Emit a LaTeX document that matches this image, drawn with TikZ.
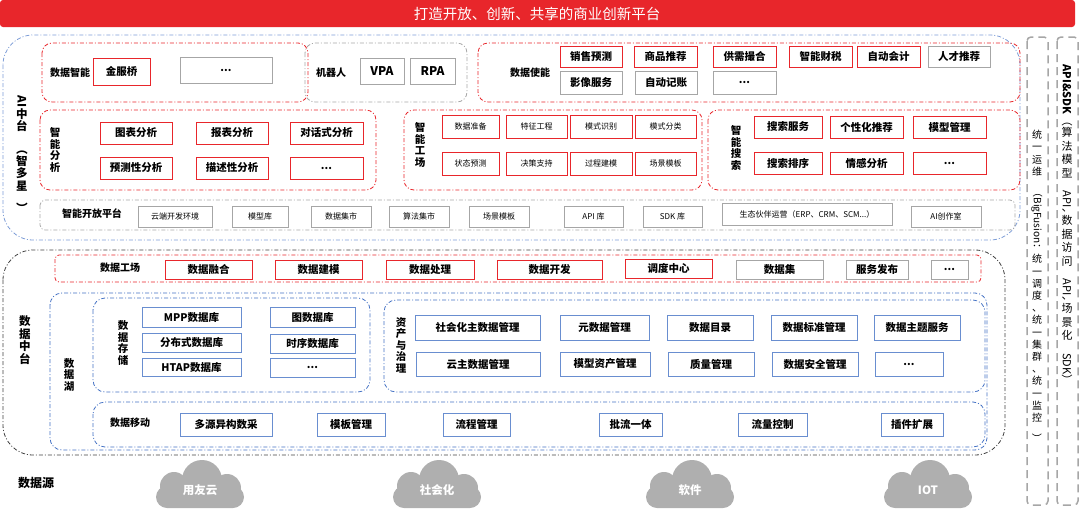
\documentclass[tikz,border=0pt]{standalone}
\usepackage{fontspec}
\setmainfont{Noto Sans CJK SC}
\definecolor{rd}{HTML}{E8262B}
\definecolor{bl}{HTML}{4472C4}
\definecolor{gy}{HTML}{A6A6A6}
\newcounter{bc}
\newcommand\bx[6]{\stepcounter{bc}\node[#1,minimum width={(#4)-(#2)},minimum height={(#5)-(#3)}] (b\arabic{bc}) at ({((#2)+(#4))/2},{((#3)+(#5))/2}) {#6};}
\newcommand\rt[1]{\rotatebox{-90}{#1}}
\newcommand\cloudat[4]{% name, x, y, text
 \fill[gy!90] ({#2-44},{#3-2}) [rounded corners=11] rectangle ({#2+44},{#3+20});
 \fill[gy!90] ({#2-26},{#3-2}) circle (14);
 \fill[gy!90] ({#2+2},{#3-8}) circle (20);
 \fill[gy!90] ({#2+27},{#3}) circle (14);
 \node[text=white, font=\bfseries\fontsize{11.5}{12}\selectfont] (#1) at (#2,{#3+2}) {#4};}
\tikzset{
 dd/.style={dash pattern=on 4pt off 2pt on 1pt off 2pt, line width=0.8pt},
 rg/.style={dd, draw=rd, rounded corners=10},
 gg/.style={dd, draw=gy, rounded corners=10},
 bg/.style={dd, draw=bl, rounded corners=12},
 kg/.style={dd, draw=black!75, rounded corners=12},
 rb/.style={draw=rd, line width=1pt, fill=white, inner sep=0pt, font=\bfseries\fontsize{10.5}{11}\selectfont},
 gb/.style={draw=gy, line width=1pt, fill=white, inner sep=0pt, font=\bfseries\fontsize{10.5}{11}\selectfont},
 bb/.style={draw=bl!80, line width=1pt, fill=white, inner sep=0pt, font=\bfseries\fontsize{10.5}{11}\selectfont},
 srb/.style={rb, font=\fontsize{8}{9}\selectfont},
 sgb/.style={gb, font=\fontsize{8}{9}\selectfont},
 lbl/.style={font=\bfseries\fontsize{10}{11}\selectfont, inner sep=0pt},
 vlbl/.style={font=\bfseries\fontsize{10.5}{11.5}\selectfont, align=center, inner sep=0pt},
}
\begin{document}
\begin{tikzpicture}[x=1pt,y=-1pt]
\useasboundingbox (0,0) rectangle (1080,512);
% title
\fill[rd, rounded corners=3] (0,0) rectangle (1075,27);
\node[text=white, font=\fontsize{14.5}{15}\selectfont] (title) at (537,14) {打造开放、创新、共享的商业创新平台};
% AI platform
\draw[bg, draw=bl!70, rounded corners=30] (3,35) rectangle (1020,240);
\node[vlbl, font=\bfseries\fontsize{11.5}{12.5}\selectfont] (ai) at (22,155) {\rt{AI}\\中\\台\\\rt{（}\\智\\多\\星\\\rt{）}};
% row 1
\draw[rg] (42,43) rectangle (308,102);
\node[lbl] (l1) at (70,73) {数据智能};
\bx{rb}{93}{58}{150}{85}{金服桥}
\bx{gb}{180}{57}{272}{83}{...}
\draw[gg] (305,43) rectangle (467,102);
\node[lbl] (l2) at (331,73) {机器人};
\bx{gb}{360}{58}{404}{84}{\fontsize{12}{13}\selectfont VPA}
\bx{gb}{410}{58}{455}{84}{\fontsize{12}{13}\selectfont RPA}
\draw[rg] (478,43) rectangle (1020,102);
\node[lbl] (l3) at (530,73) {数据使能};
\bx{rb}{560}{46}{622}{67}{销售预测}
\bx{rb}{634}{46}{697}{67}{商品推荐}
\bx{rb}{713}{46}{776}{67}{供需撮合}
\bx{rb}{789}{46}{852}{67}{智能财税}
\bx{rb}{857}{46}{920}{67}{自动会计}
\bx{gb}{928}{46}{990}{67}{人才推荐}
\bx{gb}{560}{71}{622}{94}{影像服务}
\bx{gb}{635}{71}{697}{94}{自动记账}
\bx{gb}{713}{71}{776}{94}{...}
% row 2
\draw[rg] (40,110) rectangle (376,190);
\node[vlbl] (l4) at (55,150) {智\\能\\分\\析};
\bx{rb}{100}{122}{172}{144}{图表分析}
\bx{rb}{196}{122}{268}{144}{报表分析}
\bx{rb}{290}{122}{363}{144}{对话式分析}
\bx{rb}{100}{157}{172}{179}{预测性分析}
\bx{rb}{196}{157}{268}{179}{描述性分析}
\bx{rb}{290}{157}{363}{179}{...}
\draw[rg] (404,110) rectangle (702,190);
\node[vlbl] (l5) at (420,145) {智\\能\\工\\场};
\bx{srb}{442}{115}{499}{138}{数据准备}
\bx{srb}{506}{115}{567}{138}{特征工程}
\bx{srb}{570}{115}{632}{138}{模式识别}
\bx{srb}{635}{115}{696}{138}{模式分类}
\bx{srb}{442}{152}{499}{175}{状态预测}
\bx{srb}{506}{152}{567}{175}{决策支持}
\bx{srb}{570}{152}{632}{175}{过程建模}
\bx{srb}{635}{152}{696}{175}{场景模板}
\draw[rg] (708,110) rectangle (1020,190);
\node[vlbl] (l6) at (736,148) {智\\能\\搜\\索};
\bx{rb}{754}{116}{822}{138}{搜索服务}
\bx{rb}{830}{116}{903}{138}{个性化推荐}
\bx{rb}{913}{116}{986}{138}{模型管理}
\bx{rb}{754}{152}{822}{174}{搜索排序}
\bx{rb}{830}{152}{903}{174}{情感分析}
\bx{rb}{913}{152}{986}{174}{...}
% row 3
\draw[gg, rounded corners=5] (40,200) rectangle (1015,230);
\node[lbl] (l7) at (92,214) {智能开放平台};
\bx{sgb}{138}{206}{212}{227}{云端开发环境}
\bx{sgb}{232}{206}{288}{227}{模型库}
\bx{sgb}{311}{206}{371}{227}{数据集市}
\bx{sgb}{389}{206}{449}{227}{算法集市}
\bx{sgb}{469}{206}{529}{227}{场景模板}
\bx{sgb}{564}{206}{623}{227}{API 库}
\bx{sgb}{643}{206}{702}{227}{SDK 库}
\bx{sgb}{722}{203}{892}{225}{生态伙伴运营（ERP、CRM、SCM...）}
\bx{sgb}{911}{206}{981}{227}{AI创作室}
% data platform
\draw[kg, rounded corners=30] (3,250) rectangle (1005,455);
\node[vlbl, font=\bfseries\fontsize{11.5}{12.5}\selectfont] (l8) at (25,340) {数\\据\\中\\台};
\draw[rg, rounded corners=4] (55,255) rectangle (981,282);
\node[lbl] (l9) at (120,268) {数据工场};
\bx{rb}{165}{260}{252}{279}{数据融合}
\bx{rb}{275}{260}{362}{279}{数据建模}
\bx{rb}{386}{260}{474}{279}{数据处理}
\bx{rb}{497}{260}{602}{279}{数据开发}
\bx{rb}{625}{259}{712}{278}{调度中心}
\bx{gb}{736}{260}{823}{279}{数据集}
\bx{gb}{846}{260}{908}{279}{服务发布}
\bx{gb}{931}{260}{968}{279}{...}
\draw[bg] (50,293) rectangle (987,450);
\node[vlbl] (l10) at (69,375) {数\\据\\湖};
\draw[bg] (93,298) rectangle (370,392);
\node[vlbl] (l11) at (123,343) {数\\据\\存\\储};
\bx{bb}{142}{307}{241}{327}{MPP数据库}
\bx{bb}{270}{307}{355}{327}{图数据库}
\bx{bb}{142}{333}{241}{352}{分布式数据库}
\bx{bb}{270}{334}{355}{353}{时序数据库}
\bx{bb}{142}{358}{241}{376}{HTAP数据库}
\bx{bb}{270}{358}{355}{377}{...}
\draw[bg] (384,300) rectangle (985,392);
\node[vlbl] (l12) at (401,345) {资\\产\\与\\治\\理};
\bx{bb}{415}{315}{540}{340}{社会化主数据管理}
\bx{bb}{560}{315}{649}{340}{元数据管理}
\bx{bb}{667}{315}{753}{340}{数据目录}
\bx{bb}{771}{315}{857}{340}{数据标准管理}
\bx{bb}{874}{315}{960}{340}{数据主题服务}
\bx{bb}{416}{352}{540}{376}{云主数据管理}
\bx{bb}{560}{352}{650}{376}{模型资产管理}
\bx{bb}{668}{352}{754}{376}{质量管理}
\bx{bb}{772}{352}{858}{376}{数据安全管理}
\bx{bb}{875}{352}{943}{376}{...}
\draw[bg] (93,402) rectangle (985,447);
\node[lbl] (l13) at (130,423) {数据移动};
\bx{bb}{180}{413}{272}{436}{多源异构数采}
\bx{bb}{317}{413}{385}{436}{模板管理}
\bx{bb}{443}{413}{510}{436}{流程管理}
\bx{bb}{599}{413}{662}{436}{批流一体}
\bx{bb}{738}{413}{807}{436}{流量控制}
\bx{bb}{881}{413}{943}{436}{插件扩展}
% data sources
\node[lbl, font=\bfseries\fontsize{12}{13}\selectfont] (l14) at (36,483) {数据源};
\cloudat{c1}{200}{488}{用友云}
\cloudat{c2}{437}{488}{社会化}
\cloudat{c3}{690}{488}{软件}
\cloudat{c4}{928}{488}{IOT}
% right columns
\draw[gy, dash pattern=on 8pt off 5pt, line width=1.5pt, rounded corners=4] (1027,37) rectangle (1048,505);
\node[align=center, inner sep=0pt, font=\fontsize{10}{12.2}\selectfont] (r1) at (1037,287) {统\\一\\运\\维\\\rt{（BigFusion：}\\统\\一\\调\\度\\、\\统\\一\\集\\群\\、\\统\\一\\监\\控\\\rt{）}};
\draw[gy, dash pattern=on 8pt off 5pt, line width=1.5pt, rounded corners=4] (1057,37) rectangle (1078,505);
\node[align=center, inner sep=0pt, font=\fontsize{11}{13.5}\selectfont] (r2) at (1067,225) {\rt{\bfseries API\&SDK}\\\rt{（}\\算\\法\\模\\型\\\rt{API}\\、\\数\\据\\访\\问\\\rt{API}\\、\\场\\景\\化\\\rt{SDK）}};
\end{tikzpicture}
\end{document}
